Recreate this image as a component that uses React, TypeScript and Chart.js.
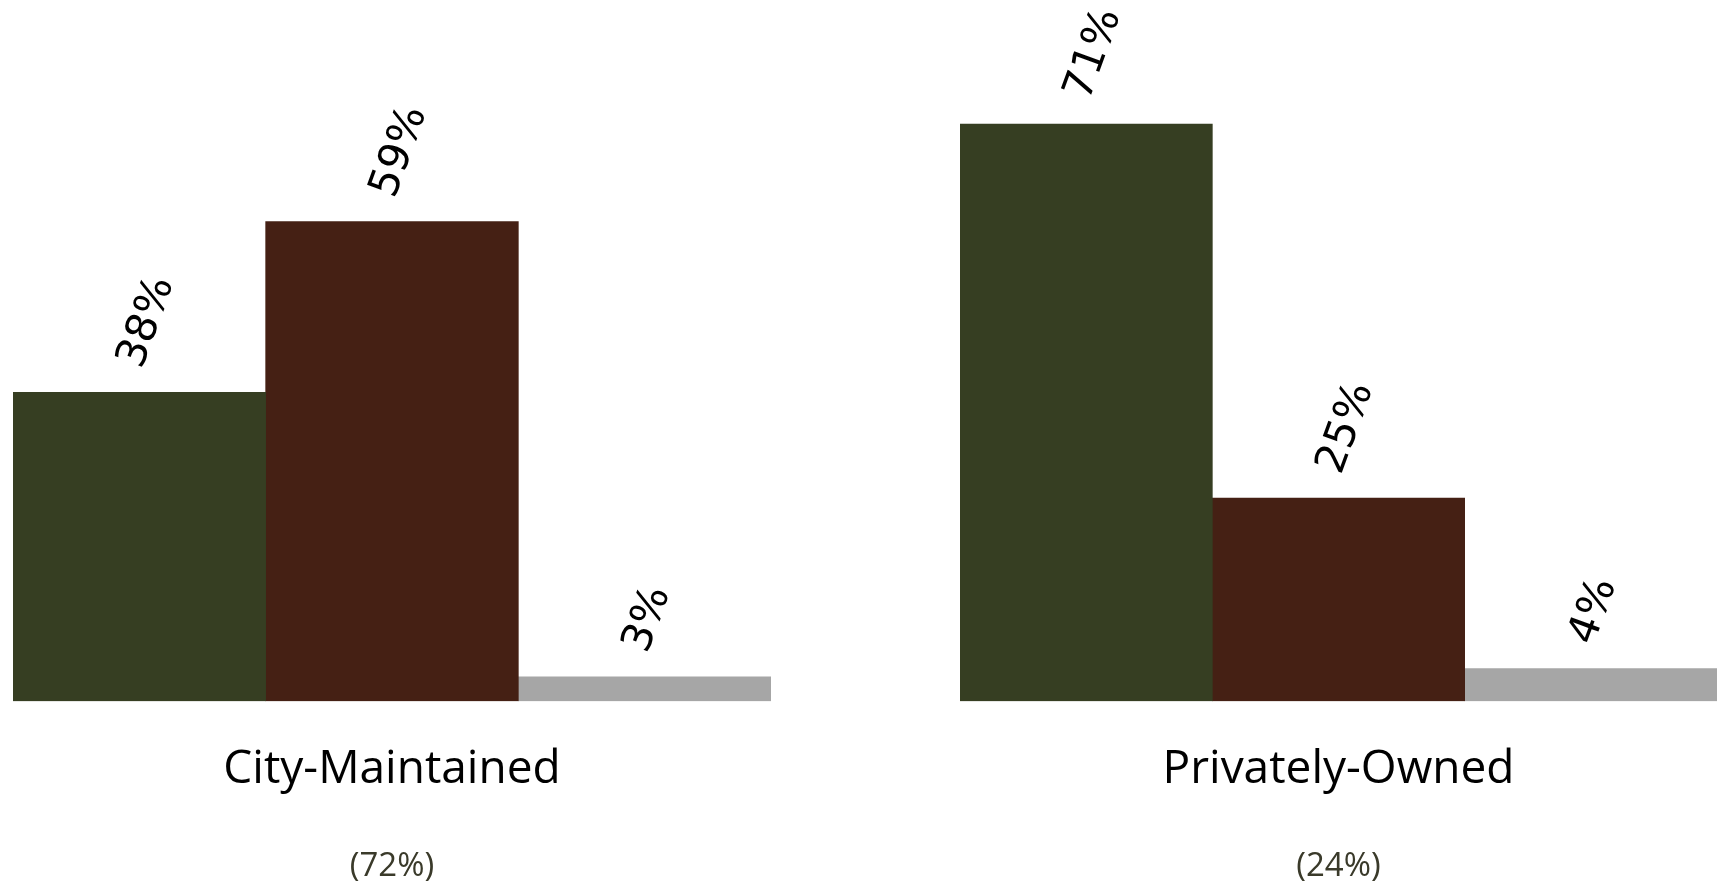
import React, { useEffect, useRef } from "react";
import { Chart, registerables } from "chart.js";

Chart.register(...registerables);

// ---- data ----
const seriesNames = ["Series A", "Series B", "Series C"];
const seriesColors = ["#363E22", "#452014", "#A6A6A6"];
const cityLabel = "City-Maintained";
const cityShare = "(72%)";
const cityValues = [38, 59, 3];
const privateLabel = "Privately-Owned";
const privateShare = "(24%)";
const privateValues = [71, 25, 4];
const yMax = 80;

const labelPlugin = {
  id: "rotatedLabels",
  afterDatasetsDraw(chart: any) {
    const ctx = chart.ctx;
    ctx.save();
    ctx.font = "42px 'DejaVu Sans'";
    ctx.fillStyle = "#000000";
    const ang = (-70 * Math.PI) / 180;
    chart.data.datasets.forEach((ds: any, i: number) => {
      const meta = chart.getDatasetMeta(i);
      meta.data.forEach((bar: any, j: number) => {
        const txt = ds.data[j] + "%";
        const w = ctx.measureText(txt).width;
        const cx = bar.x - 8 + (w / 2) * Math.cos(ang);
        const cy = bar.y - 26 + (w / 2) * Math.sin(ang);
        ctx.save();
        ctx.translate(cx, cy);
        ctx.rotate(ang);
        ctx.textAlign = "center";
        ctx.textBaseline = "middle";
        ctx.fillText(txt, 0, 0);
        ctx.restore();
      });
    });
    ctx.restore();
  },
};

function makeConfig(label: string, share: string, values: number[], padL: number, padR: number): any {
  return {
    type: "bar",
    data: {
      labels: [label],
      datasets: seriesNames.map((name, i) => ({
        label: name,
        data: [values[i]],
        backgroundColor: seriesColors[i],
        borderWidth: 0,
        barPercentage: 1,
        categoryPercentage: 1,
      })),
    },
    options: {
      animation: false,
      responsive: false,
      maintainAspectRatio: false,
      layout: { padding: { left: padL, right: padR, top: 51, bottom: 0 } },
      plugins: { legend: { display: false }, tooltip: { enabled: false } },
      scales: {
        x: {
          grid: { display: false, drawTicks: false },
          border: { display: false },
          ticks: {
            color: "#000000",
            padding: 41,
            font: { family: "'Open Sans'", size: 46 },
          },
          title: {
            display: true,
            text: share,
            color: "#3A3A2A",
            font: { family: "'Open Sans'", size: 33 },
            padding: { top: 8, bottom: 0 },
          },
        },
        y: { display: false, min: 0, max: yMax },
      },
    },
    plugins: [labelPlugin],
  };
}

function BarPanel(props: { label: string; share: string; values: number[]; left: number; width: number; padL: number; padR: number }) {
  const ref = useRef<HTMLCanvasElement>(null);
  useEffect(() => {
    if (!ref.current) return;
    const chart = new Chart(ref.current, makeConfig(props.label, props.share, props.values, props.padL, props.padR));
    return () => chart.destroy();
  }, []);
  return (
    <canvas
      ref={ref}
      width={props.width}
      height={886}
      style={{ position: "absolute", left: props.left, top: 0, width: props.width, height: 886 }}
    />
  );
}

export default function App() {
  return (
    <div style={{ position: "absolute", left: 0, top: 0, width: 1719, height: 886, background: "#ffffff", overflow: "hidden" }}>
      <BarPanel label={cityLabel} share={cityShare} values={cityValues} left={0} width={860} padL={13} padR={89} />
      <BarPanel label={privateLabel} share={privateShare} values={privateValues} left={860} width={859} padL={100} padR={2} />
    </div>
  );
}
